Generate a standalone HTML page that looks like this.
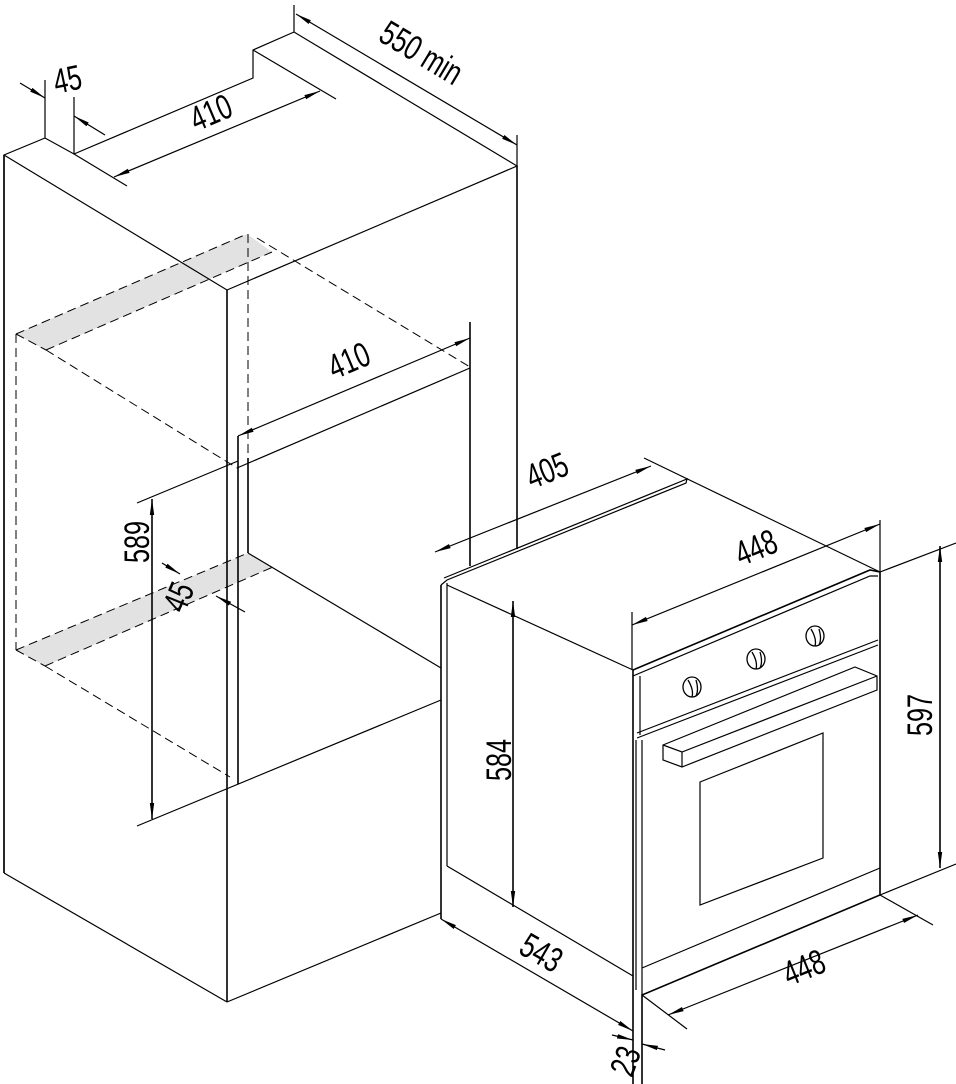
<!DOCTYPE html>
<html><head><meta charset="utf-8"><style>
html,body{margin:0;padding:0;background:#fff}
svg{display:block}
text{font-family:"Liberation Sans Narrow","Liberation Sans",sans-serif;font-size:35px;fill:#000}
</style></head><body>
<svg width="956" height="1084" viewBox="0 0 956 1084" xmlns="http://www.w3.org/2000/svg">
<defs>
<marker id="a" markerWidth="16" markerHeight="6" refX="16" refY="3" orient="auto" markerUnits="userSpaceOnUse">
<path d="M0,0.8 L16,3 L0,5.2 Z" fill="#000"/></marker>
<marker id="s" markerWidth="16" markerHeight="6" refX="0" refY="3" orient="auto" markerUnits="userSpaceOnUse">
<path d="M16,0.8 L0,3 L16,5.2 Z" fill="#000"/></marker>
</defs>
<g fill="#e2e2e2" stroke="none">
<polygon points="16,334 247,234 272,252 46,350"/>
<polygon points="16,650 248,553 273,567 45,666"/>
</g>
<g stroke="#000" stroke-width="1.2" fill="none">
<polyline points="4,873 4,155 45,138 74,154 253,78 253,50 294,32 517,166 227,290 4,155"/>
<line x1="227" y1="290" x2="227" y2="1002" stroke-width="1.6"/>
<line x1="4" y1="155" x2="4" y2="873" stroke-width="1.6"/>
<line x1="4" y1="873" x2="227" y2="1002"/>
<line x1="227" y1="1002" x2="441" y2="913"/>
<line x1="517" y1="166" x2="517" y2="549" stroke-width="1.6"/>
<line x1="45" y1="138" x2="45" y2="80"/>
<line x1="74" y1="154" x2="74" y2="97"/>
<line x1="20" y1="83" x2="45" y2="98" marker-end="url(#a)"/>
<line x1="105" y1="135" x2="74" y2="116" marker-end="url(#a)"/>
<line x1="74" y1="154" x2="127" y2="186"/>
<line x1="253" y1="50" x2="336" y2="99"/>
<line x1="114" y1="177" x2="320" y2="91" marker-start="url(#s)" marker-end="url(#a)"/>
<line x1="294" y1="32" x2="294" y2="5"/>
<line x1="517" y1="166" x2="517" y2="135"/>
<line x1="296" y1="14" x2="517" y2="145" marker-start="url(#s)" marker-end="url(#a)"/>
<line x1="238" y1="436" x2="238" y2="784" stroke-width="1.6"/>
<line x1="248" y1="458" x2="248" y2="553" stroke-width="1.6"/>
<line x1="237" y1="468" x2="470" y2="368"/>
<line x1="470" y1="322" x2="470" y2="566" stroke-width="1.6"/>
<line x1="238" y1="436" x2="470" y2="338" marker-start="url(#s)" marker-end="url(#a)"/>
<line x1="248" y1="553" x2="441" y2="668"/>
<line x1="137" y1="826" x2="441" y2="700"/>
<line x1="137" y1="503" x2="238" y2="461"/>
<line x1="152" y1="499" x2="152" y2="819" stroke-width="1.6" marker-start="url(#s)" marker-end="url(#a)"/>
<line x1="162" y1="563" x2="180" y2="574" marker-end="url(#a)"/>
<line x1="245" y1="612" x2="216" y2="596" marker-end="url(#a)"/>
</g>
<g stroke="#000" stroke-width="1" fill="none" stroke-dasharray="9,5">
<line x1="16" y1="334" x2="247" y2="234"/>
<line x1="46" y1="350" x2="272" y2="252"/>
<line x1="16" y1="334" x2="46" y2="350"/>
<line x1="257" y1="238" x2="470" y2="367"/>
<line x1="46" y1="350" x2="237" y2="468"/>
<line x1="16" y1="334" x2="16" y2="650"/>
<line x1="248" y1="234" x2="248" y2="458"/>
<line x1="16" y1="650" x2="248" y2="553"/>
<line x1="45" y1="666" x2="273" y2="567"/>
<line x1="16" y1="650" x2="45" y2="666"/>
<line x1="45" y1="666" x2="230" y2="777"/>
</g>
<g stroke="#000" stroke-width="1.2" fill="none">
<line x1="441" y1="585" x2="441" y2="919" stroke-width="1.6"/>
<line x1="447" y1="583" x2="447" y2="866"/>
<polyline points="441,585 447,580 686,483 687,479 444,578"/>
<line x1="447" y1="585" x2="633" y2="670"/>
<line x1="447" y1="866" x2="633" y2="976"/>
<line x1="644" y1="458" x2="880" y2="572"/>
<polyline points="633,1084 633,670 870,570 880,572 880,895 642,995 642,1084" stroke-width="1.6"/>
<polyline points="633,676 870,576 878,576"/>
<line x1="640" y1="676" x2="640" y2="735"/>
<line x1="637" y1="733" x2="878" y2="640"/>
<line x1="637" y1="738" x2="878" y2="645"/>
<line x1="636" y1="740" x2="636" y2="990"/>
<line x1="642" y1="740" x2="642" y2="995"/>
<line x1="642" y1="968" x2="880" y2="868"/>
<polygon points="700,782 823,733 823,858 700,905"/>
<polygon points="663,745 855,667 877,676 877,690 682,767 663,760"/>
<polyline points="663,745 682,752 877,676"/>
<line x1="682" y1="752" x2="682" y2="767"/>
<g stroke-width="1.3">
<ellipse cx="692" cy="687" rx="9" ry="10"/><path d="M688,680 Q694,690 692,697 M696,680 Q699,690 696,696"/>
<ellipse cx="756" cy="659" rx="9" ry="10"/><path d="M752,652 Q758,662 756,669 M760,652 Q763,662 760,668"/>
<ellipse cx="815" cy="636" rx="9" ry="10"/><path d="M811,629 Q817,639 815,646 M819,629 Q822,639 819,645"/>
</g>
<line x1="435" y1="552" x2="651" y2="466" marker-start="url(#s)" marker-end="url(#a)"/>
<line x1="632" y1="612" x2="632" y2="670"/>
<line x1="880" y1="520" x2="880" y2="572"/>
<line x1="632" y1="625" x2="880" y2="524" marker-start="url(#s)" marker-end="url(#a)"/>
<line x1="880" y1="572" x2="956" y2="543"/>
<line x1="880" y1="895" x2="956" y2="864"/>
<line x1="940" y1="546" x2="940" y2="868" stroke-width="1.6" marker-start="url(#s)" marker-end="url(#a)"/>
<line x1="513" y1="601" x2="513" y2="907" stroke-width="1.6" marker-start="url(#s)" marker-end="url(#a)"/>
<line x1="441" y1="919" x2="633" y2="1031" marker-start="url(#s)" marker-end="url(#a)"/>
<line x1="880" y1="895" x2="933" y2="925"/>
<line x1="642" y1="995" x2="687" y2="1029"/>
<line x1="668" y1="1015" x2="918" y2="915" marker-start="url(#s)" marker-end="url(#a)"/>
<line x1="612" y1="1035" x2="633" y2="1040" marker-end="url(#a)"/>
<line x1="665" y1="1050" x2="642" y2="1044" marker-end="url(#a)"/>
</g>
<text transform="translate(68,82) rotate(-12) scale(0.72,1)" text-anchor="middle" dominant-baseline="middle">45</text>
<text transform="translate(212,115) rotate(-23) scale(0.72,1)" text-anchor="middle" dominant-baseline="middle">410</text>
<text transform="translate(420,55) rotate(31) scale(0.72,1)" text-anchor="middle" dominant-baseline="middle">550 min</text>
<text transform="translate(350,363) rotate(-23) scale(0.72,1)" text-anchor="middle" dominant-baseline="middle">410</text>
<text transform="translate(140,542) rotate(-90) scale(0.72,1)" text-anchor="middle" dominant-baseline="middle">589</text>
<text transform="translate(181,598) rotate(-68) scale(0.72,1)" text-anchor="middle" dominant-baseline="middle">45</text>
<text transform="translate(548,473) rotate(-22) scale(0.72,1)" text-anchor="middle" dominant-baseline="middle">405</text>
<text transform="translate(757,550) rotate(-22) scale(0.72,1)" text-anchor="middle" dominant-baseline="middle">448</text>
<text transform="translate(923,715) rotate(-90) scale(0.72,1)" text-anchor="middle" dominant-baseline="middle">597</text>
<text transform="translate(502,760) rotate(-90) scale(0.72,1)" text-anchor="middle" dominant-baseline="middle">584</text>
<text transform="translate(540,955) rotate(30) scale(0.72,1)" text-anchor="middle" dominant-baseline="middle">543</text>
<text transform="translate(805,970) rotate(-22) scale(0.72,1)" text-anchor="middle" dominant-baseline="middle">448</text>
<text transform="translate(628,1062) rotate(-70) scale(0.72,1)" text-anchor="middle" dominant-baseline="middle">23</text>
</svg>
</body></html>
